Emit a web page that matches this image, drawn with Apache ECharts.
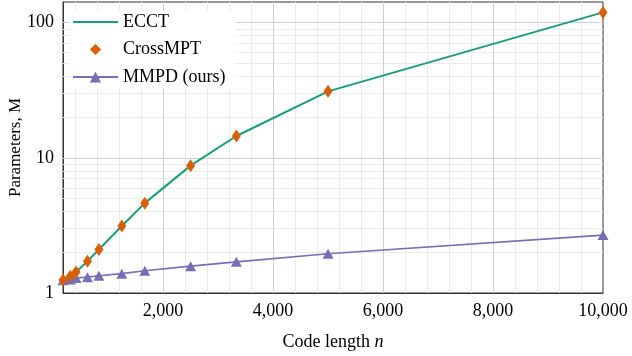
<!DOCTYPE html>
<html>
<head>
<meta charset="utf-8">
<script src="https://cdn.jsdelivr.net/npm/echarts@6/dist/echarts.min.js"></script>
<style>html,body{margin:0;padding:0;background:#fff}#c{width:632px;height:356px}</style>
</head>
<body>
<div id="c"></div>
<script>
const codeLengths = [180, 312, 417, 625, 833, 1250, 1667, 2500, 3333, 5000, 10000];
const ecctParams = [1.25, 1.33, 1.43, 1.72, 2.1, 3.13, 4.62, 8.75, 14.5, 31, 119];
const crossmptParams = [1.25, 1.33, 1.43, 1.72, 2.1, 3.13, 4.62, 8.75, 14.5, 31, 119];
const mmpdParams = [1.24, 1.26, 1.29, 1.31, 1.34, 1.39, 1.46, 1.58, 1.70, 1.95, 2.68];
const xTickLabels = [2000, 4000, 6000, 8000, 10000];
const yTickLabels = [1, 10, 100];
const xMinorGrid = [400, 800, 1200, 1600, 2400, 2800, 3200, 3600, 4400, 4800, 5200, 5600, 6400, 6800, 7200, 7600, 8400, 8800, 9200, 9600];
const yMinorGrid = [2, 3, 4, 5, 6, 7, 8, 9, 20, 30, 40, 50, 60, 70, 80, 90];
const xMajorGrid = [2000, 4000, 6000, 8000];
const yMajorGrid = [10, 100];

const FONT = 'Liberation Serif';
const pair = (xs, ys) => xs.map((x, i) => [x, ys[i]]);

const gridLines = [];
xMinorGrid.forEach(v => gridLines.push({ xAxis: v, lineStyle: { color: '#ebebeb', width: 1, type: 'solid' } }));
yMinorGrid.forEach(v => gridLines.push({ yAxis: v, lineStyle: { color: '#ebebeb', width: 1, type: 'solid' } }));
xMajorGrid.forEach(v => gridLines.push({ xAxis: v, lineStyle: { color: '#cfcfcf', width: 1, type: 'solid' } }));
yMajorGrid.forEach(v => gridLines.push({ yAxis: v, lineStyle: { color: '#cfcfcf', width: 1, type: 'solid' } }));

const chart = echarts.init(document.getElementById('c'), null, { renderer: 'canvas' });
chart.setOption({
  animation: false,
  backgroundColor: '#fff',
  textStyle: { fontFamily: FONT },
  grid: { left: 63, right: 29, top: 2, bottom: 63, containLabel: false, outerBoundsMode: 'none',
    show: true, borderColor: '#333', borderWidth: 1, backgroundColor: 'transparent' },
  legend: {
    data: ['ECCT', 'CrossMPT', 'MMPD (ours)'],
    orient: 'vertical',
    left: 70, top: 11,
    padding: [2, 10, 2, 2],
    backgroundColor: '#fff',
    itemWidth: 45, itemHeight: 14, itemGap: 9.5,
    textStyle: { fontFamily: FONT, fontSize: 18, color: '#000' },
    z: 6
  },
  xAxis: {
    type: 'value', min: 180, max: 10000,
    name: 'Code length {i|n}', nameLocation: 'middle', nameGap: 40, nameMoveOverlap: false,
    nameTextStyle: { fontFamily: FONT, fontSize: 18, color: '#000', rich: { i: { fontFamily: FONT, fontSize: 18, fontStyle: 'italic', color: '#000' } } },
    axisLine: { show: true, onZero: false, lineStyle: { color: '#333', width: 1 } },
    axisTick: { show: true, inside: true, length: 5, lineStyle: { color: '#555' }, customValues: xMinorGrid.concat(xMajorGrid) },
    axisLabel: { show: true, customValues: xTickLabels, margin: 9, fontFamily: FONT, fontSize: 18, color: '#000',
      formatter: v => Math.round(v).toLocaleString('en-US') },
    splitLine: { show: false }
  },
  yAxis: {
    type: 'log', logBase: 10, min: 1, max: 142,
    name: 'Parameters, M', nameLocation: 'middle', nameGap: 39, nameMoveOverlap: false,
    nameTextStyle: { fontFamily: FONT, fontSize: 17, color: '#000' },
    axisLine: { show: true, onZero: false, lineStyle: { color: '#333', width: 1 } },
    axisTick: { show: true, inside: true, length: 5, lineStyle: { color: '#555' }, customValues: yMinorGrid.concat(yMajorGrid) },
    axisLabel: { show: true, customValues: yTickLabels, margin: 9, fontFamily: FONT, fontSize: 18, color: '#000',
      formatter: v => String(Math.round(v)) },
    splitLine: { show: false }
  },
  series: [
    {
      name: 'grid', type: 'line', data: [], z: 1, silent: true,
      markLine: { z: 1, silent: true, symbol: ['none', 'none'], label: { show: false }, animation: false, data: gridLines }
    },
    {
      name: 'ECCT', type: 'line', data: pair(codeLengths, ecctParams), z: 3,
      showSymbol: false, symbol: 'circle',
      lineStyle: { color: '#1b9e77', width: 2 }, itemStyle: { color: 'rgba(0,0,0,0)', borderWidth: 0 }
    },
    {
      name: 'CrossMPT', type: 'line', data: pair(codeLengths, crossmptParams), z: 4,
      symbol: 'diamond', symbolSize: [9, 13], showSymbol: true,
      lineStyle: { width: 0, opacity: 0, color: 'rgba(0,0,0,0)' },
      itemStyle: { color: '#d95f02', opacity: 1 }
    },
    {
      name: 'MMPD (ours)', type: 'line', data: pair(codeLengths, mmpdParams), z: 3,
      symbol: 'triangle', symbolSize: [11, 10], showSymbol: true,
      lineStyle: { color: '#7570b3', width: 1.6 }, itemStyle: { color: '#7570b3' }
    }
  ]
});
</script>
</body>
</html>
